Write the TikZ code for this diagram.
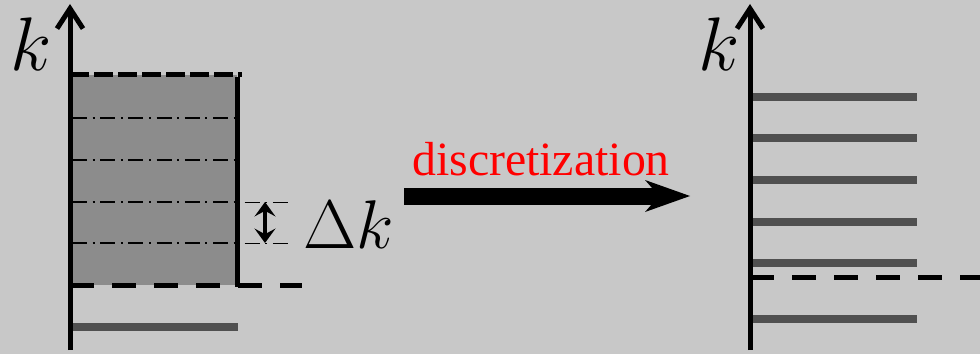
\RequirePackage{fix-cm}
\documentclass[tikz,border=0pt]{standalone}
\usepackage[no-math]{fontspec}
\setmainfont{Liberation Serif}
\usetikzlibrary{positioning,arrows.meta}
\definecolor{bggray}{gray}{0.784}
\definecolor{cellgray}{gray}{0.55}
\definecolor{bargray}{gray}{0.314}

\begin{document}
\begin{tikzpicture}[
  x=0.25mm, y=-0.25mm,
  axis/.style={line width=1.25mm, -{Straight Barb[length=5mm, width=6.5mm]}},
  edge/.style={line width=1.25mm},
  cut/.style={line width=1.25mm, dash pattern=on 5.9mm off 4.6mm},
  topcut/.style={line width=1.25mm, dash pattern=on 4.75mm off 1.25mm},
  grid/.style={line width=0.45mm, dash pattern=on 3.75mm off 1.4mm on 0.5mm off 1.4mm},
  gridext/.style={line width=0.25mm, dash pattern=on 0.5mm off 1.4mm on 3.75mm off 1.4mm},
  level/.style={line width=1.9mm, draw=bargray},
  klabel/.style={inner sep=0pt, anchor=base west, font=\fontsize{54}{54}\selectfont},
  >={Stealth[length=3.6mm, width=5.2mm, inset=1.4mm]}
]
\useasboundingbox[fill=bggray] (0,0) rectangle (980,354);

\coordinate (lbot) at (70,350);
\coordinate (ltop) at (70,4);
\coordinate (dtop) at (265,202);
\coordinate (dbot) at (265,243);
\fill[cellgray] (70,75) rectangle (237,285);
\foreach \y in {118,160,202,243}
  \draw[grid] (72,\y) -- (237,\y);
\foreach \y in {202,243}
  \draw[gridext] (237,\y) -- (293,\y);
\draw[topcut] (70,75) -- (242,75);
\draw[cut] (70,285) -- (302,285);
\draw[edge] (237,77) -- (237,287);
\draw[level] (72,327) -- (238,327);
\draw[axis] (lbot) -- (ltop);
\draw[<->, line width=0.8mm] (dtop) -- (dbot);
\node[klabel] (kleft) at (10,70) {$k$};
\node[inner sep=0pt, anchor=base west, font=\fontsize{49}{49}\selectfont] (dk) at (303,248) {$\Delta k$};

\coordinate (astart) at (404,196);
\coordinate (aend) at (690,196);
\draw[line width=4.25mm, -{Stealth[length=11.25mm, width=8mm, inset=3.5mm, line width=0pt]}] (astart) -- (aend);
\node[inner sep=0pt, anchor=base, text=red, font={\fontsize{34}{34}\selectfont\rmfamily}] (word) at (541,175) {discretization};

\coordinate (rbot) at (750,350);
\coordinate (rtop) at (750,4);
\foreach \y in {97,138,180,222,263,319}
  \draw[level] (752,\y) -- (917,\y);
\draw[cut] (750,277) -- (980,277);
\draw[axis] (rbot) -- (rtop);
\node[klabel] (kright) at (698,70) {$k$};
\end{tikzpicture}
\end{document}
